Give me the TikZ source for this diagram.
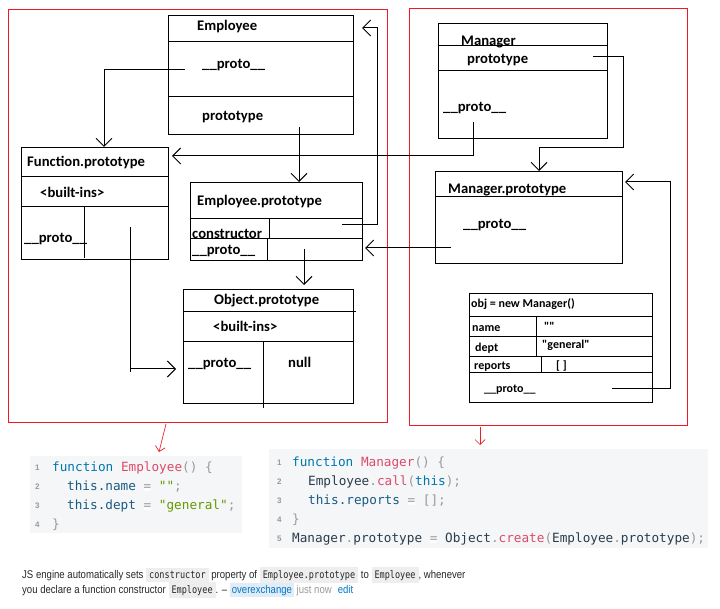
\documentclass[tikz,border=0pt]{standalone}
\usepackage{fontspec}
\setmainfont{Liberation Sans}
\newfontfamily\paintfont{Carlito}
\newfontfamily\codefont{DejaVu Sans Mono}
\newfontfamily\spanfont[FakeStretch=0.82]{DejaVu Sans Mono}
\newfontfamily\webfont[FakeStretch=0.855]{Liberation Sans}
\usepackage{xcolor}
\usetikzlibrary{positioning, arrows.meta, calc}
\definecolor{paintred}{RGB}{237,28,36}
\definecolor{kwblue}{RGB}{0,119,170}
\definecolor{thisblue}{RGB}{24,90,130}
\definecolor{fnpink}{RGB}{221,74,104}
\definecolor{strgreen}{RGB}{102,153,0}
\definecolor{punctgray}{RGB}{153,153,153}
\definecolor{plaincode}{RGB}{40,60,75}
\definecolor{codebg}{RGB}{245,246,248}
\definecolor{spanbg}{RGB}{238,238,238}
\definecolor{userbg}{RGB}{225,236,244}
\definecolor{linkblue}{RGB}{0,119,204}
\definecolor{webblack}{RGB}{36,39,41}

\newcommand{\jskw}[1]{\textcolor{kwblue}{#1}}
\newcommand{\jsthis}[1]{\textcolor{thisblue}{#1}}
\newcommand{\jsfn}[1]{\textcolor{fnpink}{#1}}
\newcommand{\jspn}[1]{\textcolor{punctgray}{#1}}
\newcommand{\jsstr}[1]{\textcolor{strgreen}{#1}}
\newcommand{\jsop}{{\fboxsep=0pt\colorbox{white!70!codebg}{\textcolor{punctgray}{=}}}}
\newcommand{\inlinecode}[1]{{\fboxsep=3pt\colorbox{spanbg}{\rule[-1pt]{0pt}{8pt}\spanfont\fontsize{10.4}{12}\selectfont\textcolor{webblack}{#1}}}}
\newcommand{\userlink}[1]{{\fboxsep=2pt\colorbox{userbg}{\rule[-1pt]{0pt}{9pt}\textcolor{linkblue}{#1}}}}

\tikzset{
  frame/.style={draw=paintred, line width=1pt, anchor=north west, inner sep=0pt},
  box/.style={draw, line width=1pt, anchor=north west, inner sep=0pt},
  lbl/.style={anchor=mid west, inner sep=0pt, yshift=-3pt, font=\paintfont\bfseries\fontsize{14.67}{17}\selectfont},
  objlbl/.style={anchor=mid west, inner sep=0pt, yshift=-2pt, font=\paintfont\bfseries\fontsize{12}{14}\selectfont},
  codeblock/.style={fill=codebg, anchor=north west, inner sep=0pt},
  codeline/.style={anchor=mid west, inner sep=0pt, yshift=-2pt, text=plaincode, font=\codefont\fontsize{12.7}{15}\selectfont},
  lineno/.style={anchor=mid west, inner sep=0pt, yshift=-1pt, text=punctgray, font=\bfseries\fontsize{8}{10}\selectfont},
  webtext/.style={anchor=base west, inner sep=0pt, text=webblack, font=\webfont\fontsize{11.2}{15}\selectfont},
  ref/.style={->, line width=1pt},
  redref/.style={-{Straight Barb[length=5pt,width=10pt]}, draw=paintred, line width=0.7pt},
}

\begin{document}
\begin{tikzpicture}[x=1pt, y=-1pt, >={Straight Barb[length=8pt,width=16pt]}]
\useasboundingbox (0,0) rectangle (720,609);

% red frames
\node[frame, minimum width=379pt, minimum height=413pt] (leftframe) at (8,9) {};
\node[frame, minimum width=278pt, minimum height=417pt] (rightframe) at (409,8) {};

% boxes of the left frame
\node[box, minimum width=185pt, minimum height=119pt] (emp) at (168,15) {};
\foreach \y in {42,97} \draw[line width=1pt] (emp.west |- 0,\y) -- (emp.east |- 0,\y);
\node[lbl] (empname) at (197,25) {Employee};
\node[lbl] (empproto) at (202,63) {\_\_proto\_\_};
\node[lbl] (empprot) at (202,115) {prototype};

\node[box, minimum width=147pt, minimum height=112pt] (fp) at (21,147) {};
\foreach \y in {177,207} \draw[line width=1pt] (fp.west |- 0,\y) -- (fp.east |- 0,\y);
\draw[line width=1pt] (84,207) -- (84,258);
\node[lbl] (fpname) at (27,161) {Function.prototype};
\node[lbl] (fpbuilt) at (40,192) {<built-ins>};
\node[lbl] (fpproto) at (24,237) {\_\_proto\_\_};

\node[box, minimum width=172pt, minimum height=78pt] (ep) at (190,182) {};
\foreach \y in {219,239} \draw[line width=1pt] (ep.west |- 0,\y) -- (363,\y);
\draw[line width=1pt] (269,219) -- (269,239);
\draw[line width=1pt] (267,239) -- (267,260);
\node[lbl] (epname) at (197,200) {Employee.prototype};
\node[lbl] (epcons) at (192,233) {constructor};
\node[lbl] (epproto) at (192,249) {\_\_proto\_\_};

\node[box, minimum width=170pt, minimum height=114pt] (op) at (183,289) {};
\draw[line width=1pt] (op.west |- 0,312) -- (356,312);
\draw[line width=1pt] (op.west |- 0,342) -- (op.east |- 0,342);
\draw[line width=1pt] (263,342) -- (263,408);
\node[lbl] (opname) at (214,299) {Object.prototype};
\node[lbl] (opbuilt) at (213,326) {<built-ins>};
\node[lbl] (opproto) at (188,362) {\_\_proto\_\_};
\node[lbl] (opnull) at (288,362) {null};

% boxes of the right frame
\node[box, minimum width=169pt, minimum height=115pt] (mgr) at (438,23) {};
\foreach \y in {46,71} \draw[line width=1pt] (mgr.west |- 0,\y) -- (mgr.east |- 0,\y);
\node[lbl] (mgrname) at (461,40) {Manager};
\node[lbl] (mgrprot) at (467,58) {prototype};
\node[lbl] (mgrproto) at (443,106) {\_\_proto\_\_};

\node[box, minimum width=187pt, minimum height=92pt] (mp) at (435,171) {};
\draw[line width=1pt] (mp.west |- 0,197) -- (mp.east |- 0,197);
\node[lbl] (mpname) at (448,188) {Manager.prototype};
\node[lbl] (mpproto) at (463,223) {\_\_proto\_\_};

\node[box, minimum width=183pt, minimum height=109pt] (obj) at (469,293) {};
\foreach \y in {317,337,357,373} \draw[line width=1pt] (obj.west |- 0,\y) -- (obj.east |- 0,\y);
\draw[line width=1pt] (536,317) -- (536,357);
\draw[line width=1pt] (541,357) -- (541,373);
\node[objlbl] (objname) at (471,303) {obj = new Manager()};
\node[objlbl] (objnamek) at (472,327) {name};
\node[objlbl] (objnamev) at (544,326) {""};
\node[objlbl] (objdeptk) at (475,347) {dept};
\node[objlbl] (objdeptv) at (542,344) {"general"};
\node[objlbl] (objrepk) at (474,365) {reports};
\node[objlbl] (objrepv) at (556,365) {[ ]};
\node[objlbl] (objproto) at (484,388) {\_\_proto\_\_};

% prototype links
\coordinate (e1) at (185,70);
\draw[ref] (e1) -| (fp.north -| 104,0);
\coordinate (e2) at (299,127);
\draw[ref] (e2) -- (e2 |- ep.north);
\coordinate (c1) at (342,225);
\coordinate (c2) at (377,28);
\draw[ref] (c1) -| (c2) -- ([xshift=8pt]emp.east |- c2);
\coordinate (e3) at (304,249);
\draw[ref] (e3) -- ([yshift=4pt]e3 |- op.north);
\coordinate (f1) at (130,227);
\draw[line width=1pt] (f1) -- (130,372);
\draw[ref] (130,369) -- ([xshift=-7pt]op.west |- 0,369);
\coordinate (m1) at (473,122);
\draw[ref] (m1) |- ([xshift=3pt]fp.east |- 0,156);
\coordinate (m2) at (593,57);
\coordinate (m3) at (623,148);
\draw[ref] (m2) -| (m3) -| (mp.north -| 539,0);
\coordinate (m4) at (451,248);
\draw[ref] (m4) -- ([xshift=2pt]ep.east |- m4);
\coordinate (o1) at (612,388);
\coordinate (o2) at (670,182);
\draw[ref] (o1) -| (o2) -- ([xshift=2pt]mp.east |- o2);

% code blocks
\node[codeblock, minimum width=212pt, minimum height=77pt] (codeA) at (30,456) {};
\node[codeblock, minimum width=439pt, minimum height=99pt] (codeB) at (269,449) {};
\foreach \n in {1,...,4} \node[lineno] at (35,448+19*\n) {\n};
\foreach \n in {1,...,5} \node[lineno] at (277,443+19*\n) {\n};

\node[codeline] (a1) at (52,467) {\jskw{function} \jsfn{Employee}\jspn{()} \jspn{\{}};
\node[codeline] (a2) at (67,486) {\jsthis{this.name} \jsop{} \jsstr{""}\jspn{;}};
\node[codeline] (a3) at (67,505) {\jsthis{this.dept} \jsop{} \jsstr{"general"}\jspn{;}};
\node[codeline] (a4) at (52,524) {\jspn{\}}};

\node[codeline] (b1) at (292,462) {\jskw{function} \jsfn{Manager}\jspn{()} \jspn{\{}};
\node[codeline] (b2) at (308,481) {Employee\jspn{.}\jsfn{call}\jspn{(}\jskw{this}\jspn{);}};
\node[codeline] (b3) at (308,500) {\jsthis{this.reports} \jsop{} \jspn{[];}};
\node[codeline] (b4) at (292,519) {\jspn{\}}};
\node[codeline] (b5) at (292,538) {Manager\jspn{.}prototype \jsop{} Object\jspn{.}\jsfn{create}\jspn{(}Employee\jspn{.}prototype\jspn{);}};

% red pointers
\coordinate (r1) at (166,424);
\draw[redref] (r1) -- (159,452);
\coordinate (r2) at (480,427);
\draw[redref] (r2) -- (480,445);

% comment text
\node[webtext] (note1) at (22,578) {JS engine automatically sets \inlinecode{constructor} property of \inlinecode{Employee.prototype} to \inlinecode{Employee}, whenever};
\node[webtext] (note2) at (22,593) {you declare a function constructor \inlinecode{Employee}. – \userlink{overexchange} \textcolor{punctgray}{just now}\hspace{6pt}\textcolor{linkblue}{edit}};
\end{tikzpicture}
\end{document}
